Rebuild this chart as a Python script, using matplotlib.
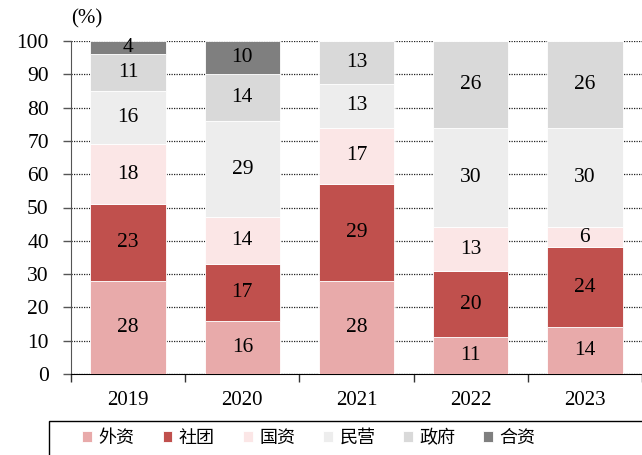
import matplotlib
matplotlib.use("Agg")
import matplotlib.pyplot as plt
from matplotlib.patches import Rectangle
import numpy as np

years = ["2019", "2020", "2021", "2022", "2023"]
series_names = ["外资", "社团", "国资", "民营", "政府", "合资"]
waizi = [28, 16, 28, 11, 14]
shetuan = [23, 17, 29, 20, 24]
guozi = [18, 14, 17, 13, 6]
minying = [16, 29, 13, 30, 30]
zhengfu = [11, 14, 13, 26, 26]
hezi = [4, 10, 0, 0, 0]
colors = ["#E8AAAA", "#C0504D", "#FBE6E6", "#EDEDED", "#D9D9D9", "#7F7F7F"]

series = [waizi, shetuan, guozi, minying, zhengfu, hezi]

serif = ["Liberation Serif", "DejaVu Serif"]
cjk = ["Noto Sans CJK SC", "DejaVu Sans"]

W, H = 642, 455
fig = plt.figure(figsize=(W / 100, H / 100), dpi=100)
ax = fig.add_axes([71 / W, 1 - 374 / H, 571 / W, 333 / H])

x = np.arange(len(years))
bottom = np.zeros(len(years))
handles = []
for name, vals, c in zip(series_names, series, colors):
    vals = np.array(vals, dtype=float)
    b = ax.bar(x, vals, 0.66, bottom=bottom, color=c, edgecolor="white",
               linewidth=0.6, label=name, zorder=3)
    handles.append(b)
    for xi, v, bt in zip(x, vals, bottom):
        if v > 0:
            ax.text(xi, bt + v / 2, f"{int(v)}", ha="center", va="center",
                    fontsize=15.5, family=serif, color="black", zorder=4)
    bottom += vals

ax.set_xlim(-0.5, len(years) - 0.5)
ax.set_ylim(0, 100)
ax.set_yticks(np.arange(0, 101, 10))
ax.set_yticklabels([str(v) for v in range(0, 101, 10)], family=serif, fontsize=15.5)
ax.set_xticks(x)
ax.set_xticklabels(years, family=serif, fontsize=15)
ax.tick_params(axis="x", which="major", length=0, pad=12)
ax.set_xticks(np.arange(-0.5, len(years), 1.0), minor=True)
ax.tick_params(axis="x", which="minor", length=6, width=1, color="#333333")
ax.tick_params(axis="y", length=6, width=1, color="#555555", pad=10)

ax.yaxis.grid(True, linestyle=(0, (1, 1)), color="#222222", linewidth=0.9, zorder=0)
ax.set_axisbelow(True)
for s in ["top", "right"]:
    ax.spines[s].set_visible(False)
ax.spines["left"].set_color("#555555")
ax.spines["bottom"].set_color("black")

ax.text(0.0, 1.065, "(%)", transform=ax.transAxes, family=serif, fontsize=15,
        ha="left", va="center")

# legend frame (extends past the right and bottom edges as in the reference)
frame = Rectangle((49 / W, -0.05), 1.0, (455 - 421) / H + 0.05,
                  transform=fig.transFigure, fill=False, edgecolor="black",
                  linewidth=1.0, clip_on=False)
fig.add_artist(frame)

leg = fig.legend(handles=handles, labels=series_names, loc="center",
                 bbox_to_anchor=(309 / W, 1 - 438 / H), ncol=6, frameon=False,
                 prop={"family": cjk, "size": 13}, handlelength=0.55,
                 handleheight=0.55, handletextpad=0.35, columnspacing=1.55,
                 borderaxespad=0, borderpad=0)

fig.savefig("out.png", dpi=100)
